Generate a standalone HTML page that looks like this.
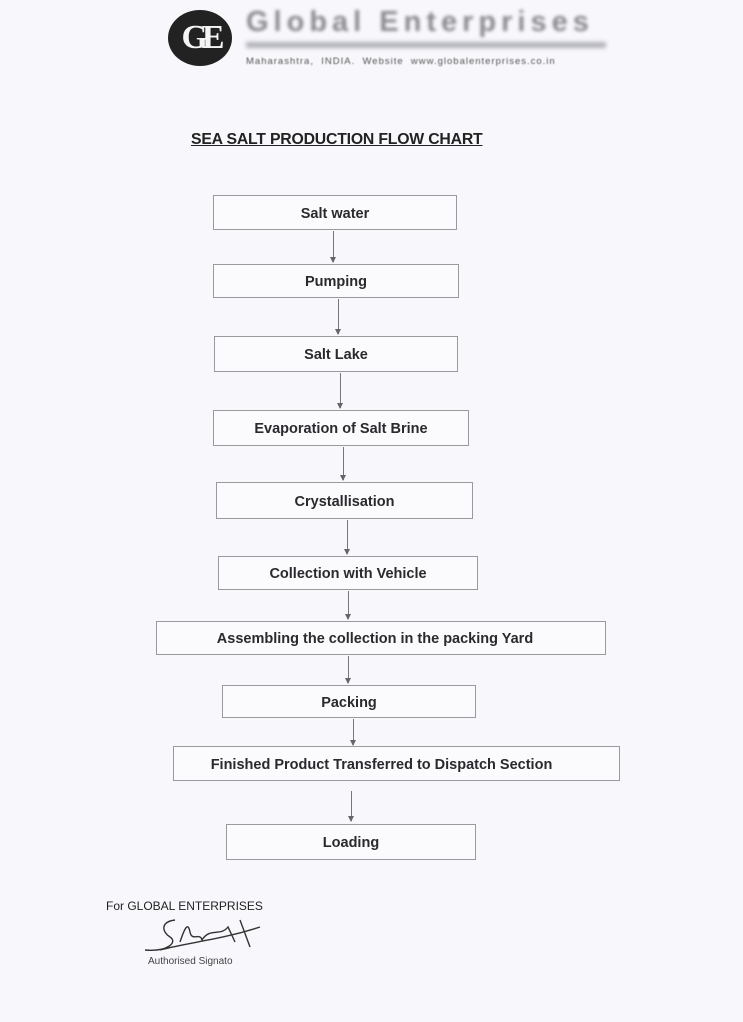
<!DOCTYPE html>
<html><head><meta charset="utf-8"><style>
body{margin:0;width:743px;height:1022px;background:#f8f8fc;position:relative;overflow:hidden;font-family:"Liberation Sans",sans-serif;}
.b{position:absolute;border:1.3px solid #9a9a9e;background:#fbfbfe;display:flex;align-items:center;justify-content:center;font-weight:bold;font-size:14.5px;color:#2a2a2e;box-sizing:border-box;padding-top:2px;}
.a{position:absolute;width:1px;background:#777;}
.a:after{content:"";position:absolute;left:-3px;bottom:-1px;border-left:3.5px solid transparent;border-right:3.5px solid transparent;border-top:6px solid #666;}
.t{position:absolute;}
</style></head><body>
<div class="t" style="left:168px;top:10px;width:64px;height:56px;border-radius:50%;background:#222;color:#f4f4f4;font:bold 34px 'Liberation Serif',serif;display:flex;align-items:center;justify-content:center;letter-spacing:-6px">GE</div>
<div class="t" style="left:246px;top:6px;font:bold 29px 'Liberation Sans',sans-serif;color:#8a8a8e;letter-spacing:5px;filter:blur(1.5px)">Global Enterprises</div>
<div class="t" style="left:246px;top:42px;width:360px;height:6px;background:#b0b0b8;filter:blur(2px)"></div>
<div class="t" style="left:246px;top:56px;font-size:9.5px;color:#555;letter-spacing:1px;filter:blur(0.5px)">Maharashtra,&nbsp; INDIA.&nbsp; Website&nbsp; www.globalenterprises.co.in</div>
<div class="t" style="left:191px;top:131px;font-weight:bold;font-size:15.8px;color:#222;text-decoration:underline;letter-spacing:-0.2px">SEA SALT PRODUCTION FLOW CHART</div>

<div class="b" style="left:213px;top:195px;width:244px;height:35px">Salt water</div>
<div class="a" style="left:333px;top:231px;height:31px"></div>
<div class="b" style="left:213px;top:264px;width:246px;height:34px">Pumping</div>
<div class="a" style="left:338px;top:299px;height:35px"></div>
<div class="b" style="left:214px;top:336px;width:244px;height:36px">Salt Lake</div>
<div class="a" style="left:340px;top:373px;height:35px"></div>
<div class="b" style="left:213px;top:410px;width:256px;height:36px">Evaporation of Salt Brine</div>
<div class="a" style="left:343px;top:447px;height:33px"></div>
<div class="b" style="left:216px;top:482px;width:257px;height:37px">Crystallisation</div>
<div class="a" style="left:347px;top:520px;height:34px"></div>
<div class="b" style="left:218px;top:556px;width:260px;height:34px">Collection with Vehicle</div>
<div class="a" style="left:348px;top:591px;height:28px"></div>
<div class="b" style="left:156px;top:621px;width:450px;height:34px;padding-right:12px">Assembling the collection in the packing Yard</div>
<div class="a" style="left:348px;top:656px;height:27px"></div>
<div class="b" style="left:222px;top:685px;width:254px;height:33px">Packing</div>
<div class="a" style="left:353px;top:719px;height:26px"></div>
<div class="b" style="left:173px;top:746px;width:447px;height:35px;padding-right:30px">Finished Product Transferred to Dispatch Section</div>
<div class="a" style="left:351px;top:791px;height:30px"></div>
<div class="b" style="left:226px;top:824px;width:250px;height:36px">Loading</div>

<div class="t" style="left:106px;top:899px;font-size:12px;color:#222">For GLOBAL ENTERPRISES</div>
<svg class="t" style="left:140px;top:912px" width="130" height="45"><path d="M35 8 C20 10 22 20 30 25 C38 30 28 40 5 38 M40 30 C45 15 48 10 50 20 C52 30 60 20 62 28 C70 15 80 25 88 15 L95 30 M100 8 L110 35 M20 38 C50 30 80 28 120 15" fill="none" stroke="#333" stroke-width="1.4"/></svg>
<div class="t" style="left:148px;top:956px;font-size:10px;color:#444">Authorised Signato</div>
</body></html>
